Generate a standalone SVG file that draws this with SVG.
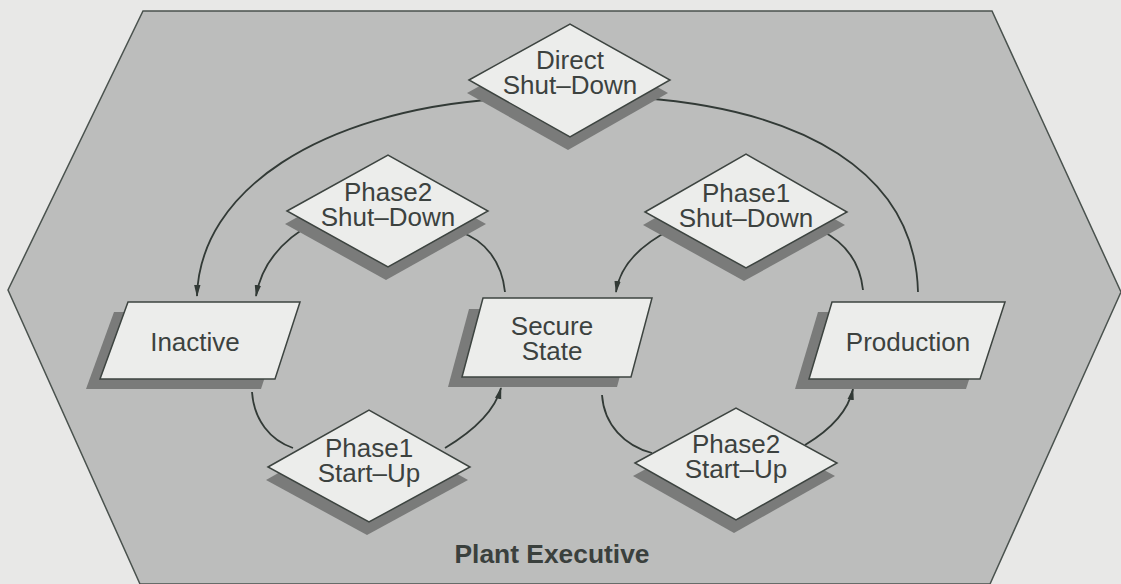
<svg xmlns="http://www.w3.org/2000/svg" width="1121" height="584" viewBox="0 0 1121 584">
  <defs>
    <style>
      .node { fill: #ecedeb; stroke: #3d4440; stroke-width: 1.5; }
      .shadow { fill: #7a7b7a; }
      .label { font-family: "Liberation Sans", Arial, sans-serif; font-size: 26px; fill: #3c423f; text-anchor: middle; }
      .edge { fill: none; stroke: #323a36; stroke-width: 1.8; }
      .title { font-family: "Liberation Sans", Arial, sans-serif; font-size: 25px; font-weight: bold; fill: #3a403d; text-anchor: middle; }
    </style>
    <marker id="arrow" viewBox="0 0 12 8" refX="11" refY="4" markerWidth="12" markerHeight="8" markerUnits="userSpaceOnUse" orient="auto">
      <path d="M0,0.8 L12,4 L0,7.2 Z" fill="#323a36"/>
    </marker>
  </defs>

  <!-- page background -->
  <rect width="1121" height="584" fill="#e8e8e7"/>

  <!-- Plant Executive boundary -->
  <g id="plant-executive">
    <polygon points="143,11 992,11 1121,292 990,584 140,584 8,290" fill="#bcbdbc" stroke="#4a524e" stroke-width="1.5"/>
    <text class="title" x="552" y="563" textLength="195" lengthAdjust="spacingAndGlyphs">Plant Executive</text>
  </g>

  <!-- connectors -->
  <g id="connectors">
    <!-- Production -> Direct Shut-Down -> Inactive -->
    <path class="edge" d="M918,292 C915,170 800,110 642,98"/>
    <path class="edge" d="M497,99 C320,112 200,190 197,296" marker-end="url(#arrow)"/>
    <!-- Secure State -> Phase2 Shut-Down -> Inactive -->
    <path class="edge" d="M505,292 C502,262 485,240 460,232"/>
    <path class="edge" d="M315,222 C285,238 262,262 256,296" marker-end="url(#arrow)"/>
    <!-- Production -> Phase1 Shut-Down -> Secure State -->
    <path class="edge" d="M863,290 C860,262 845,242 820,230"/>
    <path class="edge" d="M672,229 C640,245 620,265 616,292" marker-end="url(#arrow)"/>
    <!-- Inactive -> Phase1 Start-Up -> Secure State -->
    <path class="edge" d="M252,392 C254,420 270,440 293,448"/>
    <path class="edge" d="M445,448 C475,430 495,410 501,388" marker-end="url(#arrow)"/>
    <!-- Secure State -> Phase2 Start-Up -> Production -->
    <path class="edge" d="M602,395 C604,425 625,446 652,453"/>
    <path class="edge" d="M805,445 C830,430 848,412 853,389" marker-end="url(#arrow)"/>
  </g>

  <!-- state nodes -->
  <g id="inactive">
    <polygon class="shadow" points="114,312 286,312 261,389 86,389"/>
    <polygon class="node" points="128,302 300,302 275,379 100,379"/>
    <text class="label" x="195" y="351">Inactive</text>
  </g>
  <g id="secure-state">
    <polygon class="shadow" points="469,309 638,309 617,387 448,387"/>
    <polygon class="node" points="483,298 652,298 631,377 462,377"/>
    <text class="label" x="552" y="335">Secure</text>
    <text class="label" x="552" y="360">State</text>
  </g>
  <g id="production">
    <polygon class="shadow" points="818,312 991,312 966,389 795,389"/>
    <polygon class="node" points="832,302 1005,302 980,379 809,379"/>
    <text class="label" x="908" y="351">Production</text>
  </g>

  <!-- transition nodes -->
  <g id="direct-shut-down">
    <polygon class="shadow" points="467,93 568,37 668,93 568,150"/>
    <polygon class="node" points="469,80 570,24 670,80 570,137"/>
    <text class="label" x="570" y="69">Direct</text>
    <text class="label" x="570" y="94">Shut–Down</text>
  </g>
  <g id="phase2-shut-down">
    <polygon class="shadow" points="285,224 386,168 486,224 386,280"/>
    <polygon class="node" points="287,211 388,155 488,211 388,267"/>
    <text class="label" x="388" y="201">Phase2</text>
    <text class="label" x="388" y="226">Shut–Down</text>
  </g>
  <g id="phase1-shut-down">
    <polygon class="shadow" points="643,225 744,167 845,225 744,281"/>
    <polygon class="node" points="645,212 746,154 847,212 746,268"/>
    <text class="label" x="746" y="202">Phase1</text>
    <text class="label" x="746" y="227">Shut–Down</text>
  </g>
  <g id="phase1-start-up">
    <polygon class="shadow" points="266,480 367,423 468,480 367,535"/>
    <polygon class="node" points="268,467 369,410 470,467 369,522"/>
    <text class="label" x="369" y="457">Phase1</text>
    <text class="label" x="369" y="482">Start–Up</text>
  </g>
  <g id="phase2-start-up">
    <polygon class="shadow" points="633,476 734,421 835,476 734,533"/>
    <polygon class="node" points="635,463 736,408 837,463 736,520"/>
    <text class="label" x="736" y="453">Phase2</text>
    <text class="label" x="736" y="478">Start–Up</text>
  </g>
</svg>
